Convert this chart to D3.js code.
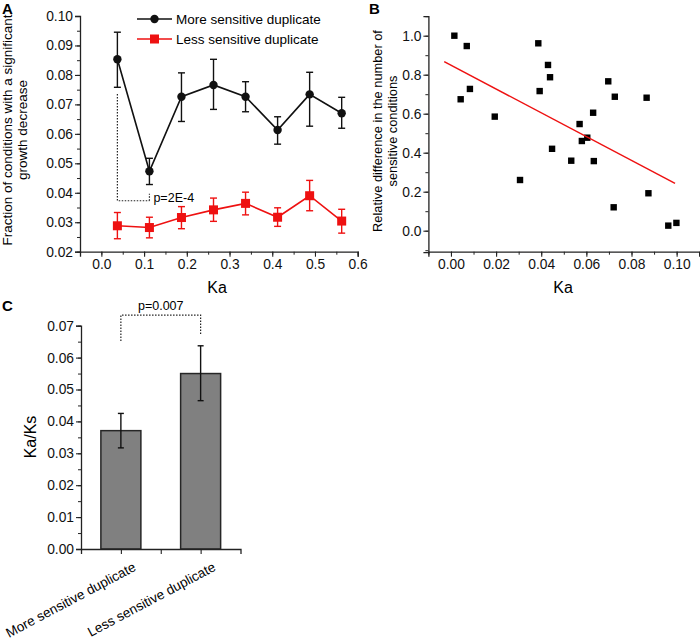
<!DOCTYPE html>
<html><head><meta charset="utf-8">
<script src="https://cdn.jsdelivr.net/npm/d3@7"></script>
<style>
body{margin:0;background:#fff;}
svg{display:block;font-family:"Liberation Sans",Arial,Helvetica,sans-serif;}
</style></head>
<body>
<svg id="chart" width="700" height="642"></svg>
<script>
// ---- Panel A data ----
const aKa = [0.0375, 0.1125, 0.1875, 0.2625, 0.3375, 0.4125, 0.4875, 0.5625];
const aMore = [0.0853, 0.0473, 0.0726, 0.0766, 0.0726, 0.0613, 0.0734, 0.0670];
const aMoreHi = [0.0945, 0.0517, 0.0807, 0.0853, 0.0777, 0.0658, 0.0809, 0.0724];
const aMoreLo = [0.0758, 0.0428, 0.0642, 0.0683, 0.0675, 0.0565, 0.0626, 0.0619];
const aLess = [0.0288, 0.0282, 0.0316, 0.0342, 0.0364, 0.0317, 0.0390, 0.0304];
const aLessHi = [0.0333, 0.0317, 0.0353, 0.0382, 0.0402, 0.0349, 0.0442, 0.0344];
const aLessLo = [0.0244, 0.0247, 0.0278, 0.0303, 0.0325, 0.0286, 0.0339, 0.0263];
const aSeriesNames = ["More sensitive duplicate", "Less sensitive duplicate"];
const aXTicks = [0.0, 0.1, 0.2, 0.3, 0.4, 0.5, 0.6];
const aYTicks = [0.02, 0.03, 0.04, 0.05, 0.06, 0.07, 0.08, 0.09, 0.10];
const aPText = "p=2E-4";
const aBracket = {x0: 0.0375, x1: 0.1125, yTop: 0.0735, yBottom: 0.0373};

// ---- Panel B data ----
const bKa = [0.0015, 0.0070, 0.0043, 0.0084, 0.0194, 0.0306, 0.0387, 0.0393, 0.0430, 0.0439, 0.0448, 0.0533,
             0.0570, 0.0580, 0.0604, 0.0630, 0.0633, 0.0697, 0.0726, 0.0721, 0.0867, 0.0875, 0.0963, 0.0999];
const bDiff = [1.000, 0.947, 0.674, 0.727, 0.585, 0.260, 0.961, 0.716, 0.850, 0.787, 0.420, 0.359,
               0.547, 0.460, 0.477, 0.605, 0.357, 0.766, 0.687, 0.120, 0.682, 0.192, 0.026, 0.040];
const bFitX = [-0.003, 0.0993];
const bFitY = [0.867, 0.243];
const bXTicks = [0.00, 0.02, 0.04, 0.06, 0.08, 0.10];
const bYTicks = [0.0, 0.2, 0.4, 0.6, 0.8, 1.0];

// ---- Panel C data ----
const cCats = ["More sensitive duplicate", "Less sensitive duplicate"];
const cVals = [0.0371, 0.0550];
const cHi = [0.0425, 0.0637];
const cLo = [0.0317, 0.0465];
const cYTicks = [0.00, 0.01, 0.02, 0.03, 0.04, 0.05, 0.06, 0.07];
const cPText = "p=0.007";
const cBracket = {top: 0.0733, left: 0.0652, right: 0.0672};

const svg = d3.select("#chart");
const FONT = 13.8;
const red = "#ee1111";

function styleAxis(g) {
  g.select(".domain").attr("stroke", "#222").attr("stroke-width", 1.3);
  g.selectAll(".tick line").attr("stroke", "#222").attr("stroke-width", 1.1);
  g.selectAll(".tick text").attr("fill", "#111").style("font-size", FONT + "px").style("font-family", "inherit");
}
function minorTicks(domain, step) {
  const out = [];
  const s = Math.ceil(domain[0] / step - 1e-9), e = Math.floor(domain[1] / step + 1e-9);
  for (let i = s; i <= e; i++) out.push(+(i * step).toFixed(6));
  return out;
}
function addMinor(parent, transform, axisFn, scale, step) {
  const m = parent.append("g").attr("transform", transform)
    .call(axisFn(scale).tickValues(minorTicks(scale.domain(), step)).tickSize(3).tickFormat(""));
  m.select(".domain").remove();
  m.selectAll(".tick line").attr("stroke", "#222").attr("stroke-width", 1);
}

// =============== Panel A ===============
{
  const x = d3.scaleLinear().domain([-0.05, 0.6]).range([80, 357.7]);
  const y = d3.scaleLinear().domain([0.02, 0.10]).range([251.7, 16]);
  const g = svg.append("g");

  addMinor(g, "translate(0,251.7)", d3.axisBottom, x, 0.05);
  const gx = g.append("g").attr("transform", "translate(0,251.7)");
  gx.call(d3.axisBottom(x).tickValues(aXTicks).tickFormat(d3.format(".1f")).tickSize(5).tickPadding(3));
  styleAxis(gx);
  addMinor(g, "translate(80,0)", d3.axisLeft, y, 0.005);
  const gy = g.append("g").attr("transform", "translate(80,0)");
  gy.call(d3.axisLeft(y).tickValues(aYTicks).tickFormat(d3.format(".2f")).tickSize(5).tickPadding(2));
  styleAxis(gy);

  // bracket
  const br = aBracket;
  g.append("path")
    .attr("d", `M${x(br.x0)},${y(br.yTop)}V${y(br.yBottom)}H${x(br.x1)}`)
    .attr("fill", "none").attr("stroke", "#222").attr("stroke-width", 1.2).attr("stroke-dasharray", "1.5,1.5");
  g.append("path")
    .attr("d", `M${x(br.x1)},${y(br.yBottom)}V${y(br.yBottom) - 7}`)
    .attr("fill", "none").attr("stroke", "#222").attr("stroke-width", 1.2).attr("stroke-dasharray", "1.5,1.5");
  g.append("text").attr("x", x(br.x1) + 4).attr("y", y(br.yBottom) + 1)
    .style("font-size", "12.5px").text(aPText);

  const series = [
    {v: aMore, hi: aMoreHi, lo: aMoreLo, color: "#111", shape: "circle"},
    {v: aLess, hi: aLessHi, lo: aLessLo, color: red, shape: "square"}
  ];
  const line = d3.line().x((d, i) => x(aKa[i])).y(d => y(d));
  series.forEach(s => {
    g.append("path").datum(s.v).attr("d", line).attr("fill", "none").attr("stroke", s.color).attr("stroke-width", 1.6);
    const eb = g.append("g").attr("stroke", s.color).attr("stroke-width", 1.4);
    s.v.forEach((d, i) => {
      const cx = x(aKa[i]);
      eb.append("line").attr("x1", cx).attr("x2", cx).attr("y1", y(s.hi[i])).attr("y2", y(s.lo[i]));
      eb.append("line").attr("x1", cx - 3.5).attr("x2", cx + 3.5).attr("y1", y(s.hi[i])).attr("y2", y(s.hi[i]));
      eb.append("line").attr("x1", cx - 3.5).attr("x2", cx + 3.5).attr("y1", y(s.lo[i])).attr("y2", y(s.lo[i]));
    });
    if (s.shape === "circle") {
      g.selectAll(null).data(s.v).enter().append("circle")
        .attr("cx", (d, i) => x(aKa[i])).attr("cy", d => y(d)).attr("r", 4.2).attr("fill", s.color);
    } else {
      g.selectAll(null).data(s.v).enter().append("rect")
        .attr("x", (d, i) => x(aKa[i]) - 4.5).attr("y", d => y(d) - 4.5).attr("width", 9).attr("height", 9).attr("fill", s.color);
    }
  });

  // legend
  const leg = g.append("g");
  series.forEach((s, i) => {
    const ly = 19 + i * 20;
    leg.append("line").attr("x1", 137).attr("x2", 172).attr("y1", ly).attr("y2", ly).attr("stroke", s.color).attr("stroke-width", 1.6);
    if (s.shape === "circle") leg.append("circle").attr("cx", 154.5).attr("cy", ly).attr("r", 4.2).attr("fill", s.color);
    else leg.append("rect").attr("x", 150).attr("y", ly - 4.5).attr("width", 9).attr("height", 9).attr("fill", s.color);
    leg.append("text").attr("x", 176).attr("y", ly).attr("dy", "0.35em").style("font-size", "13.5px").text(aSeriesNames[i]);
  });

  g.append("text").attr("x", 217).attr("y", 293).attr("text-anchor", "middle").style("font-size", "16px").text("Ka");
  const yl = g.append("text").attr("transform", "translate(0,130) rotate(-90)").attr("text-anchor", "middle").style("font-size", "13.5px");
  yl.append("tspan").attr("x", 0).attr("y", 12).text("Fraction of conditions with a significant");
  yl.append("tspan").attr("x", 0).attr("y", 27).text("growth decrease");
  g.append("text").attr("x", 2).attr("y", 14).style("font-size", "15px").style("font-weight", "bold").text("A");
}

// =============== Panel B ===============
{
  const x = d3.scaleLinear().domain([-0.01, 0.11]).range([428.4, 699.2]);
  const y = d3.scaleLinear().domain([-0.11, 1.1]).range([252.15, 16.2]);
  const g = svg.append("g");
  addMinor(g, "translate(0,251.7)", d3.axisBottom, x, 0.01);
  const gx = g.append("g").attr("transform", "translate(0,251.7)");
  gx.call(d3.axisBottom(x).tickValues(bXTicks).tickFormat(d3.format(".2f")).tickSize(5).tickPadding(3));
  styleAxis(gx);
  addMinor(g, "translate(428.4,0)", d3.axisLeft, y, 0.1);
  const gy = g.append("g").attr("transform", "translate(428.4,0)");
  gy.call(d3.axisLeft(y).tickValues(bYTicks).tickFormat(d3.format(".1f")).tickSize(5).tickPadding(2));
  styleAxis(gy);

  g.selectAll(null).data(bKa).enter().append("rect")
    .attr("x", d => x(d) - 3.2).attr("y", (d, i) => y(bDiff[i]) - 3.2).attr("width", 6.4).attr("height", 6.4).attr("fill", "#000");
  g.append("line").attr("x1", x(bFitX[0])).attr("y1", y(bFitY[0])).attr("x2", x(bFitX[1])).attr("y2", y(bFitY[1]))
    .attr("stroke", red).attr("stroke-width", 1.5);

  g.append("text").attr("x", 563).attr("y", 293).attr("text-anchor", "middle").style("font-size", "16px").text("Ka");
  const yl = g.append("text").attr("transform", "translate(384,131) rotate(-90)").attr("text-anchor", "middle").style("font-size", "12.8px");
  yl.append("tspan").attr("x", 0).attr("y", -2).text("Relative difference in the number of");
  yl.append("tspan").attr("x", 0).attr("y", 13).text("sensitive conditions");
  g.append("text").attr("x", 369).attr("y", 14).style("font-size", "15px").style("font-weight", "bold").text("B");
}

// =============== Panel C ===============
{
  const x = d3.scaleLinear().domain([0.5, 2.5]).range([81, 240.5]);
  const y = d3.scaleLinear().domain([0, 0.07]).range([549, 325.7]);
  const g = svg.append("g");
  const catPos = cCats.map((c, i) => i + 1);
  const bw = 40;

  g.selectAll(null).data(cVals).enter().append("rect")
    .attr("x", (d, i) => x(catPos[i]) - bw / 2).attr("y", d => y(d)).attr("width", bw).attr("height", d => y(0) - y(d))
    .attr("fill", "#808080").attr("stroke", "#262626").attr("stroke-width", 1.5);
  const eb = g.append("g").attr("stroke", "#111").attr("stroke-width", 1.4);
  cVals.forEach((d, i) => {
    const cx = x(catPos[i]);
    eb.append("line").attr("x1", cx).attr("x2", cx).attr("y1", y(cHi[i])).attr("y2", y(cLo[i]));
    eb.append("line").attr("x1", cx - 3).attr("x2", cx + 3).attr("y1", y(cHi[i])).attr("y2", y(cHi[i]));
    eb.append("line").attr("x1", cx - 3).attr("x2", cx + 3).attr("y1", y(cLo[i])).attr("y2", y(cLo[i]));
  });

  const gx = g.append("g").attr("transform", "translate(0,549)");
  gx.call(d3.axisBottom(x).tickValues([1, 1.5, 2]).tickFormat("").tickSize(5));
  styleAxis(gx);
  catPos.forEach((p, i) => {
    g.append("text").attr("transform", `translate(${x(p) + 16},${549 + 21}) rotate(-28)`)
      .attr("text-anchor", "end").style("font-size", "13.5px").text(cCats[i]);
  });
  addMinor(g, "translate(81,0)", d3.axisLeft, y, 0.005);
  const gy = g.append("g").attr("transform", "translate(81,0)");
  gy.call(d3.axisLeft(y).tickValues(cYTicks).tickFormat(d3.format(".2f")).tickSize(5).tickPadding(2));
  styleAxis(gy);

  // bracket
  const xl = x(catPos[0]), xr = x(catPos[1]);
  g.append("path").attr("d", `M${xl},${y(cBracket.left)}V${y(cBracket.top)}H${xr}V${y(cBracket.right)}`)
    .attr("fill", "none").attr("stroke", "#222").attr("stroke-width", 1.2).attr("stroke-dasharray", "1.5,1.5");
  g.append("text").attr("x", (xl + xr) / 2).attr("y", y(cBracket.top) - 5).attr("text-anchor", "middle")
    .style("font-size", "12.5px").text(cPText);

  g.append("text").attr("transform", "translate(36,437) rotate(-90)").attr("text-anchor", "middle").style("font-size", "16px").text("Ka/Ks");
  g.append("text").attr("x", 2).attr("y", 311).style("font-size", "15px").style("font-weight", "bold").text("C");
}
</script>
</body></html>
